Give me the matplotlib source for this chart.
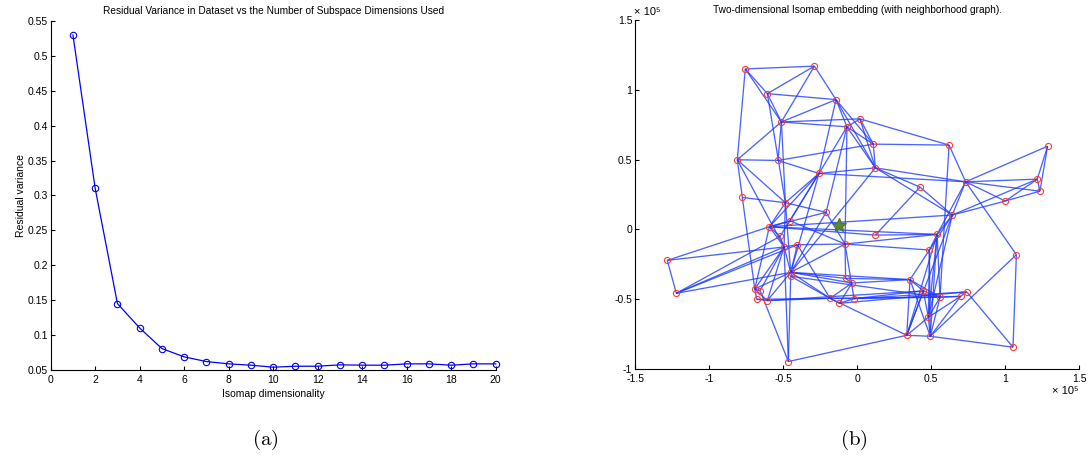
import matplotlib.pyplot as plt
import numpy as np
from matplotlib.collections import LineCollection

plt.rcParams['font.family'] = ['Liberation Sans', 'DejaVu Sans']
plt.rcParams['mathtext.fontset'] = 'cm'

# (a) residual variance per isomap dimensionality
dims = np.arange(1, 21)
resid_var = [0.530, 0.310, 0.145, 0.110, 0.0805, 0.0686, 0.0619, 0.0586, 0.0567, 0.0538,
             0.0552, 0.0552, 0.0572, 0.0567, 0.0567, 0.0586, 0.0586, 0.0567, 0.0586, 0.0586]

# (b) 2-D embedding, coordinates in units of 1e5
node_x = [-0.755, -0.288, -0.606, -0.142, -0.511, -0.068, 0.020, 0.110, 0.622, 1.288,
          -0.809, -0.534, 0.124, -0.257, 0.734, 1.218, 1.236, 0.426, 1.002, -0.775,
          -0.484, -0.209, -0.453, 0.644, -0.592, 0.124, -0.520, 0.541, -0.493, -0.403,
          -0.081, 0.489, 1.077, -1.282, -1.221, -0.448, -0.448, -0.077, -0.034, 0.358,
          -0.691, -0.655, -0.678, -0.606, -0.182, -0.119, -0.020, 0.448, 0.561, 0.700,
          0.741, 0.482, 0.336, 0.495, 1.054, -0.464]
node_y = [1.150, 1.170, 0.973, 0.930, 0.770, 0.735, 0.792, 0.611, 0.604, 0.596,
          0.499, 0.494, 0.441, 0.401, 0.341, 0.360, 0.274, 0.303, 0.203, 0.229,
          0.191, 0.122, 0.062, 0.103, 0.019, -0.041, -0.050, -0.036, -0.126, -0.110,
          -0.105, -0.148, -0.181, -0.222, -0.458, -0.308, -0.336, -0.351, -0.384, -0.360,
          -0.427, -0.439, -0.501, -0.510, -0.494, -0.530, -0.496, -0.441, -0.487, -0.480,
          -0.448, -0.630, -0.759, -0.766, -0.844, -0.947]
center_x, center_y = -0.119, 0.029

# neighbourhood graph edges (1-based node ids)
edges = [
    (1, 2), (1, 3), (1, 5), (1, 11), (2, 3), (2, 4), (2, 5), (3, 4), (3, 5), (3, 21),
    (4, 5), (4, 6), (4, 8), (4, 13), (4, 14), (5, 6), (5, 7), (5, 12), (5, 21), (5, 11),
    (6, 7), (6, 14), (6, 22), (6, 8), (6, 13), (6, 31), (7, 8), (7, 13), (7, 9), (8, 9),
    (8, 13), (8, 12), (9, 15), (9, 49), (10, 15), (10, 16), (10, 17), (11, 12), (11, 21),
    (11, 29), (11, 20), (12, 14), (13, 14), (13, 15), (13, 24), (13, 36), (13, 18),
    (14, 15), (14, 21), (14, 23), (14, 25), (14, 27), (14, 36), (15, 16), (15, 17),
    (15, 19), (15, 24), (15, 28), (15, 33), (16, 17), (16, 19), (16, 24), (18, 26),
    (18, 24), (19, 17), (19, 24), (20, 21), (20, 41), (21, 22), (21, 25), (21, 29),
    (21, 36), (22, 25), (22, 36), (22, 31), (23, 25), (23, 31), (24, 28), (24, 32),
    (24, 52), (24, 53), (24, 25), (25, 26), (25, 28), (25, 34), (25, 27), (25, 29),
    (25, 41), (26, 28), (27, 29), (27, 35), (28, 32), (28, 52), (28, 53), (28, 54),
    (28, 49), (28, 31), (29, 34), (29, 35), (29, 30), (29, 36), (29, 41), (29, 42),
    (29, 44), (29, 56), (30, 31), (30, 36), (30, 45), (31, 32), (31, 38), (31, 36),
    (31, 47), (32, 40), (32, 52), (32, 54), (33, 55), (33, 54), (34, 35), (35, 36),
    (35, 30), (36, 37), (36, 38), (36, 39), (36, 40), (36, 41), (36, 45), (36, 44),
    (37, 56), (37, 45), (37, 49), (38, 39), (38, 40), (39, 40), (39, 45), (39, 46),
    (40, 53), (40, 54), (40, 49), (40, 48), (41, 42), (41, 43), (41, 44), (42, 56),
    (43, 44), (43, 45), (44, 45), (44, 48), (45, 49), (45, 46), (45, 47), (46, 47),
    (46, 51), (47, 48), (47, 50), (47, 51), (48, 49), (48, 52), (48, 53), (49, 50),
    (49, 52), (49, 54), (50, 51), (50, 52), (50, 54), (51, 55), (52, 53), (52, 54),
    (53, 54), (53, 45), (54, 55), (56, 53),
]


def matlab_axes(ax):
    ax.spines['top'].set_visible(False)
    ax.spines['right'].set_visible(False)
    ax.tick_params(direction='in', length=3, labelsize=7.5, pad=2)
    ax.tick_params(axis='x', pad=3.5)


fig = plt.figure(figsize=(10.9, 4.67), dpi=100)

# ---- (a)
ax1 = fig.add_axes([0.0465, 0.208, 0.4083, 0.747])
ax1.plot(dims, resid_var, '-o', color='#0000ff', lw=0.9, ms=4.6,
         mfc='none', mec='#0000ff', mew=0.8, clip_on=False)
ax1.set_xlim(0, 20)
ax1.set_ylim(0.05, 0.55)
ax1.set_xticks(np.arange(0, 21, 2))
ax1.set_yticks(np.arange(0.05, 0.551, 0.05))
ax1.set_yticklabels(['0.05', '0.1', '0.15', '0.2', '0.25', '0.3', '0.35', '0.4',
                     '0.45', '0.5', '0.55'])
matlab_axes(ax1)
ax1.set_title('Residual Variance in Dataset vs the Number of Subspace Dimensions Used',
              fontsize=7.3, pad=5)
ax1.set_xlabel('Isomap dimensionality', fontsize=7.5, labelpad=3)
ax1.set_ylabel('Residual variance', fontsize=7.5, labelpad=1)

# ---- (b)
ax2 = fig.add_axes([0.5826, 0.210, 0.4073, 0.747])
segs = [[(node_x[a - 1], node_y[a - 1]), (node_x[b - 1], node_y[b - 1])] for a, b in edges]
ax2.add_collection(LineCollection(segs, colors='#1a38ff', linewidths=0.95, alpha=0.78))
ax2.plot(node_x, node_y, 'o', ms=4.4, mfc='none', mec='#ff3b2f', mew=0.8)
ax2.plot(center_x, center_y, '*', ms=10, color='#5e8a2e', mec='#4f7a24')
ax2.set_xlim(-1.5, 1.5)
ax2.set_ylim(-1, 1.5)
ax2.set_xticks([-1.5, -1, -0.5, 0, 0.5, 1, 1.5])
ax2.set_xticklabels(['-1.5', '-1', '-0.5', '0', '0.5', '1', '1.5'])
ax2.set_yticks([-1, -0.5, 0, 0.5, 1, 1.5])
ax2.set_yticklabels(['-1', '-0.5', '0', '0.5', '1', '1.5'])
matlab_axes(ax2)
ax2.set_title('Two-dimensional Isomap embedding (with neighborhood graph).',
              fontsize=7.3, pad=5)
ax2.text(-0.003, 1.008, '× 10⁵', transform=ax2.transAxes, fontsize=8,
         ha='left', va='bottom')
ax2.text(0.94, -0.05, '× 10⁵', transform=ax2.transAxes, fontsize=8,
         ha='left', va='top')

fig.text(0.243, 0.058, r'$\mathrm{(a)}$', fontsize=15, ha='center', va='center')
fig.text(0.783, 0.058, r'$\mathrm{(b)}$', fontsize=15, ha='center', va='center')

fig.savefig('out.png', dpi=100)
